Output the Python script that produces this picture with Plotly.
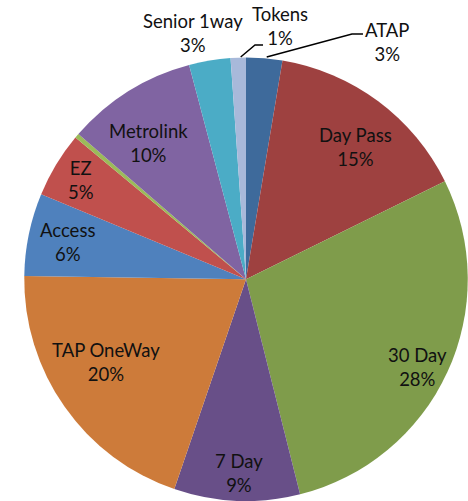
import plotly.graph_objects as go

labels = ["ATAP", "Day Pass", "30 Day", "7 Day", "TAP OneWay", "Access", "EZ",
          "Other", "Metrolink", "Senior 1way", "Tokens"]
values = [2.63, 15.08, 28.37, 9.16, 20.0, 6.02, 4.77, 0.33, 9.51, 3.02, 1.11]
colors = ["#3E6A9B", "#9E4140", "#7F9C4B", "#684F88", "#CD7B3A", "#4F81BD",
          "#C0504D", "#9BBB59", "#8064A2", "#4BACC6", "#A8B9DA"]

# label block centres (pixels from top-left), layout only
label_pos = {
    "Day Pass": (355, 146.5), "30 Day": (417.5, 367), "7 Day": (239, 473),
    "TAP OneWay": (105.5, 362), "Access": (67, 242), "EZ": (80.5, 180),
    "Metrolink": (148, 142.5), "Senior 1way": (193, 33.3), "Tokens": (280, 26.3),
    "ATAP": (387, 41.7),
}

W, H = 468, 501
FONT = "Lato"
FS = 18.5

fig = go.Figure(go.Pie(
    labels=labels, values=values, sort=False, direction="clockwise", rotation=0,
    marker=dict(colors=colors, line=dict(width=0)),
    textinfo="none",
    domain=dict(x=[24 / W, 1], y=[0, 1 - 57.5 / H]),
    showlegend=False, hoverinfo="label+percent",
))

total = sum(values)
for name, (px, py) in label_pos.items():
    pct = round(values[labels.index(name)] / total * 100)
    fig.add_annotation(x=px / W, y=1 - py / H, xref="paper", yref="paper",
                       text=f"{name}<br>{pct}%", showarrow=False,
                       font=dict(family=FONT, size=FS, color="#111111"),
                       xanchor="center", yanchor="middle")

def P(px, py):
    return f"{px / W:.4f},{1 - py / H:.4f}"

for pts in [[(240.7, 57), (255, 45), (263, 45)], [(266.7, 57), (352, 34), (363, 34)]]:
    path = "M " + " L ".join(P(*p) for p in pts)
    fig.add_shape(type="path", path=path, xref="paper", yref="paper",
                  line=dict(color="black", width=1.5))

fig.update_layout(width=W, height=H, margin=dict(l=0, r=0, t=0, b=0),
                  paper_bgcolor="white", plot_bgcolor="white")
fig.write_html("out.html", config={"displayModeBar": False},
               post_script="document.body.style.margin='0';document.body.style.overflow='hidden';")
